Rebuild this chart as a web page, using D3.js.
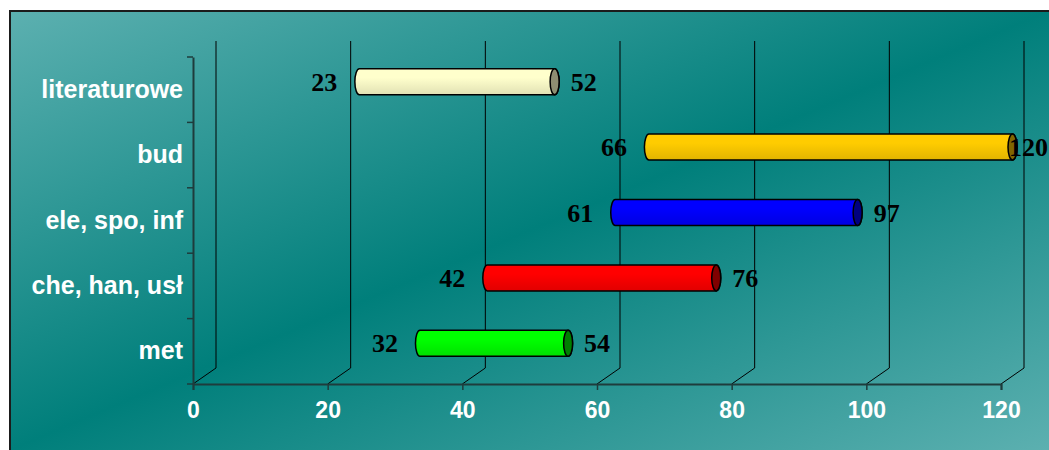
<!DOCTYPE html>
<html>
<head>
<meta charset="utf-8">
<script src="https://cdn.jsdelivr.net/npm/d3@7"></script>
<style>
  body { margin: 0; background: #fff; }
  svg { display: block; }
</style>
</head>
<body>
<script>
// data
const categories = ["literaturowe", "bud", "ele, spo, inf", "che, han, usł", "met"];
const startValues = [23, 66, 61, 42, 32];
const endValues = [52, 120, 97, 76, 54];
const tickValues = [0, 20, 40, 60, 80, 100, 120];

// styles
const barColors = ["#FFFFCC", "#FFCC00", "#0000FF", "#FF0000", "#00FF00"];
const capColors = ["#8E8E72", "#806600", "#000080", "#800000", "#008000"];

const W = 1049, H = 450;
// front plane of the 3d plot
const plot = { left: 193, right: 1001, top: 57, bottom: 384 };
const depth = { dx: 23, dy: -16 };

const svg = d3.select("body").append("svg")
  .attr("width", W)
  .attr("height", H);

const defs = svg.append("defs");

const bg = defs.append("linearGradient")
  .attr("id", "bg")
  .attr("x1", 0).attr("y1", 0).attr("x2", 1).attr("y2", 1);
bg.append("stop").attr("offset", 0).attr("stop-color", "#5CB0B0");
bg.append("stop").attr("offset", 0.5).attr("stop-color", "#007F7B");
bg.append("stop").attr("offset", 1).attr("stop-color", "#5CB0B0");

// panel (only top and left borders fall inside the picture)
svg.append("rect")
  .attr("x", 10).attr("y", 11)
  .attr("width", W - 10).attr("height", H - 11)
  .attr("fill", "url(#bg)");
svg.append("path")
  .attr("d", `M10,${H}V11H${W}`)
  .attr("fill", "none")
  .attr("stroke", "#1b1b1b")
  .attr("stroke-width", 2);

const x = d3.scaleLinear().domain([0, 120]).range([plot.left, plot.right]);
const y = d3.scaleBand().domain(categories).range([plot.top, plot.bottom]);

const g = svg.append("g");

// back wall gridlines + floor diagonals
tickValues.forEach(v => {
  const fx = x(v);
  g.append("line")
    .attr("x1", fx + depth.dx).attr("x2", fx + depth.dx)
    .attr("y1", plot.top + depth.dy).attr("y2", plot.bottom + depth.dy)
    .attr("stroke", "#000").attr("stroke-width", 1);
  g.append("line")
    .attr("x1", fx).attr("y1", plot.bottom)
    .attr("x2", fx + depth.dx).attr("y2", plot.bottom + depth.dy)
    .attr("stroke", "#000").attr("stroke-width", 1);
});

// front x axis
const xAxis = g.append("g")
  .attr("transform", `translate(0,${plot.bottom})`)
  .call(d3.axisBottom(x).tickValues(tickValues).tickSize(6).tickPadding(12));
xAxis.select(".domain").attr("stroke", "#1e3c3c").attr("stroke-width", 2);
xAxis.selectAll(".tick line").attr("stroke", "#1e3c3c").attr("stroke-width", 1.5);
xAxis.selectAll("text")
  .attr("fill", "#fff")
  .attr("font-family", "Liberation Sans, Arial, sans-serif")
  .attr("font-weight", "bold")
  .attr("font-size", 23);

// front y axis
const yAxis = g.append("g")
  .attr("transform", `translate(${plot.left},0)`)
  .call(d3.axisLeft(y).tickSize(0).tickPadding(10));
yAxis.select(".domain").attr("stroke", "#1e3c3c").attr("stroke-width", 2);
yAxis.selectAll("text")
  .attr("fill", "#fff")
  .attr("font-family", "Liberation Sans, Arial, sans-serif")
  .attr("font-weight", "bold")
  .attr("font-size", 25);
// tick marks between categories
const yEdges = categories.map(c => y(c)).concat([plot.bottom]);
g.selectAll(".ytick")
  .data(yEdges)
  .join("line")
  .attr("class", "ytick")
  .attr("x1", plot.left - 6).attr("x2", plot.left)
  .attr("y1", d => d).attr("y2", d => d)
  .attr("stroke", "#1e3c3c").attr("stroke-width", 1.5);

// bars drawn as cylinders halfway into the depth
const barH = 26, rx = 4.5, ry = barH / 2;
const rows = categories.map((c, i) => ({
  cat: c, v0: startValues[i], v1: endValues[i], fill: barColors[i], cap: capColors[i], i
}));

rows.forEach(d => {
  const gr = defs.append("linearGradient")
    .attr("id", "bar" + d.i)
    .attr("x1", 0).attr("y1", 0).attr("x2", 0).attr("y2", 1);
  gr.append("stop").attr("offset", 0).attr("stop-color", d.fill);
  gr.append("stop").attr("offset", 0.35).attr("stop-color", d.fill);
  gr.append("stop").attr("offset", 1).attr("stop-color", d3.color(d.fill).darker(0.35));
});

const bars = g.selectAll(".bar")
  .data(rows)
  .join("g")
  .attr("class", "bar")
  .attr("transform", `translate(${depth.dx / 2},${depth.dy / 2})`);

bars.append("path")
  .attr("d", d => {
    const x0 = x(d.v0), x1 = x(d.v1);
    const top = y(d.cat) + y.bandwidth() / 2 - ry, bot = top + barH;
    return `M${x0},${top}L${x1},${top}A${rx},${ry} 0 0 1 ${x1},${bot}` +
      `L${x0},${bot}A${rx},${ry} 0 0 1 ${x0},${top}Z`;
  })
  .attr("fill", d => `url(#bar${d.i})`)
  .attr("stroke", "#000")
  .attr("stroke-width", 1.5);

bars.append("ellipse")
  .attr("cx", d => x(d.v1))
  .attr("cy", d => y(d.cat) + y.bandwidth() / 2)
  .attr("rx", rx).attr("ry", ry)
  .attr("fill", d => d.cap)
  .attr("stroke", "#000")
  .attr("stroke-width", 1.5);

const labelFont = "Liberation Serif, Times New Roman, serif";

bars.append("text")
  .attr("x", d => x(d.v0) - 22)
  .attr("y", d => y(d.cat) + y.bandwidth() / 2)
  .attr("dy", "0.35em")
  .attr("text-anchor", "end")
  .attr("font-family", labelFont)
  .attr("font-weight", "bold")
  .attr("font-size", 26)
  .text(d => d.v0);

bars.append("text")
  .attr("y", d => y(d.cat) + y.bandwidth() / 2)
  .attr("dy", "0.35em")
  .attr("text-anchor", "start")
  .attr("font-family", labelFont)
  .attr("font-weight", "bold")
  .attr("font-size", 26)
  .text(d => d.v1)
  .attr("x", function(d) {
    // keep the label inside the picture (like the 120 one in the original)
    const w = this.getComputedTextLength();
    return Math.min(x(d.v1) + 16, W - depth.dx / 2 - w - 1);
  });
</script>
</body>
</html>
